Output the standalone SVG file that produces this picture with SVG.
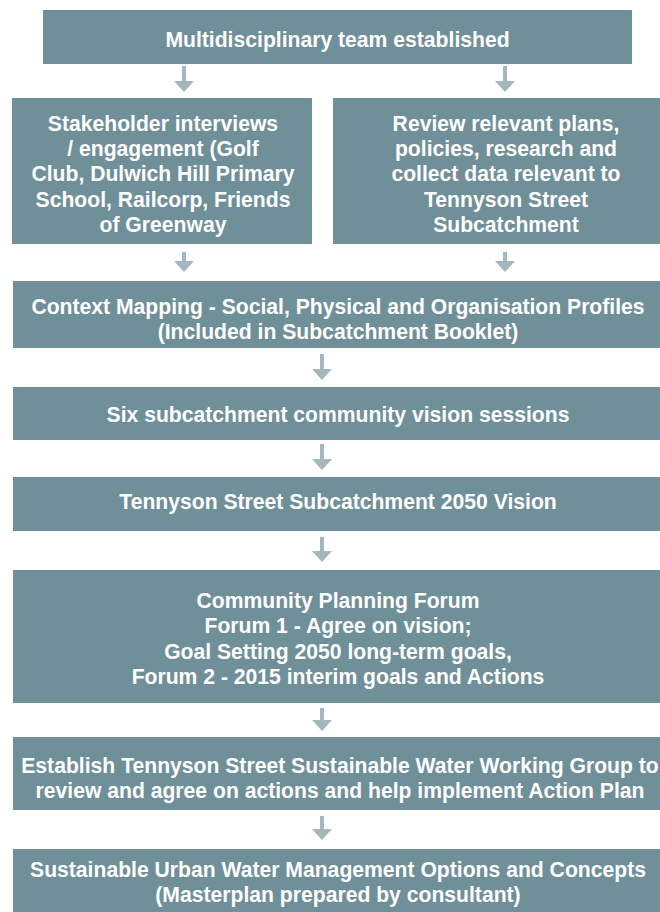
<svg xmlns="http://www.w3.org/2000/svg" width="660" height="912" viewBox="0 0 660 912">
<style>
.box{fill:#6f8f99}
.t{font-family:"Liberation Sans",Arial,Helvetica,sans-serif;font-weight:bold;font-size:21.15px;fill:#ffffff;text-anchor:middle}
.sh{stroke:#a3b7bd;stroke-width:4;fill:none}
.hd{fill:#a3b7bd}
</style>
<rect width="660" height="912" fill="#ffffff"/>
<g id="n1"><rect class="box" x="43" y="10" width="589" height="54"/>
<text class="t" x="337.5" y="47">Multidisciplinary team established</text></g>
<g id="n2"><rect class="box" x="12" y="98" width="300" height="146"/>
<text class="t" x="163"><tspan x="163" y="131">Stakeholder interviews</tspan><tspan x="163" y="156">/ engagement (Golf</tspan><tspan x="163" y="181">Club, Dulwich Hill Primary</tspan><tspan x="163" y="207">School, Railcorp, Friends</tspan><tspan x="163" y="232">of Greenway</tspan></text></g>
<g id="n3"><rect class="box" x="333" y="98" width="350" height="146"/>
<text class="t" x="506"><tspan x="506" y="131">Review relevant plans,</tspan><tspan x="506" y="156">policies, research and</tspan><tspan x="506" y="181">collect data relevant to</tspan><tspan x="506" y="207">Tennyson Street</tspan><tspan x="506" y="232">Subcatchment</tspan></text></g>
<g id="n4"><rect class="box" x="13" y="281" width="650" height="67"/>
<text class="t"><tspan x="338" y="314">Context Mapping - Social, Physical and Organisation Profiles</tspan><tspan x="338" y="339">(Included in Subcatchment Booklet)</tspan></text></g>
<g id="n5"><rect class="box" x="13" y="387" width="650" height="53"/>
<text class="t" x="338" y="422">Six subcatchment community vision sessions</text></g>
<g id="n6"><rect class="box" x="13" y="477" width="650" height="54"/>
<text class="t" x="338" y="509">Tennyson Street Subcatchment 2050 Vision</text></g>
<g id="n7"><rect class="box" x="13" y="570" width="650" height="133"/>
<text class="t"><tspan x="338" y="608">Community Planning Forum</tspan><tspan x="338" y="633">Forum 1 - Agree on vision;</tspan><tspan x="338" y="659">Goal Setting 2050 long-term goals,</tspan><tspan x="338" y="684">Forum 2 - 2015 interim goals and Actions</tspan></text></g>
<g id="n8"><rect class="box" x="13" y="737" width="650" height="73"/>
<text class="t"><tspan x="340" y="773">Establish Tennyson Street Sustainable Water Working Group to</tspan><tspan x="340" y="798">review and agree on actions and help implement Action Plan</tspan></text></g>
<g id="n9"><rect class="box" x="13" y="849" width="650" height="70"/>
<text class="t"><tspan x="338" y="877">Sustainable Urban Water Management Options and Concepts</tspan><tspan x="338" y="902">(Masterplan prepared by consultant)</tspan></text></g>
<g id="connectors">
<path class="sh" d="M184 66V82M505 66V82M184 252V262M505 252V262M322 354V370M322 444V460M322 537V552M322 708V721M322 816V830"/>
<polygon class="hd" points="174,81 194,81 184,92"/>
<polygon class="hd" points="495,81 515,81 505,92"/>
<polygon class="hd" points="174,261 194,261 184,272"/>
<polygon class="hd" points="495,261 515,261 505,272"/>
<polygon class="hd" points="312,369 332,369 322,380"/>
<polygon class="hd" points="312,459 332,459 322,470"/>
<polygon class="hd" points="312,551 332,551 322,562"/>
<polygon class="hd" points="312,720 332,720 322,731"/>
<polygon class="hd" points="312,829 332,829 322,840"/>
</g>
</svg>
